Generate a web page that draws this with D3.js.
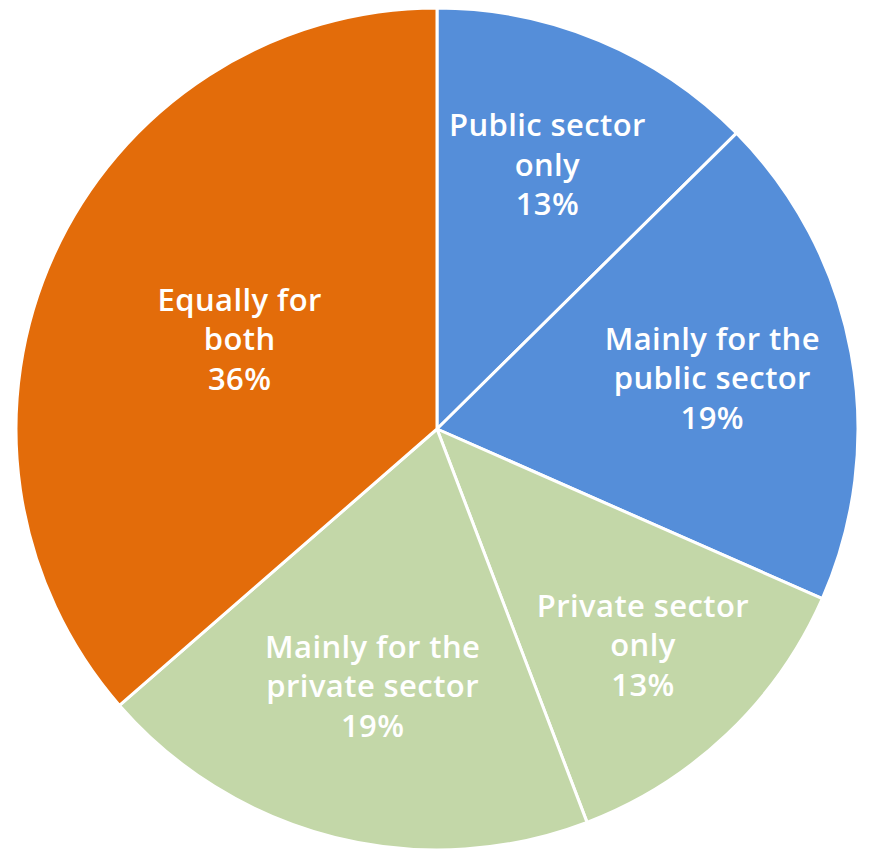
<!DOCTYPE html>
<html>
<head>
<meta charset="utf-8">
<script src="https://cdn.jsdelivr.net/npm/d3@7/dist/d3.min.js"></script>
<style>
  html, body { margin: 0; padding: 0; background: #ffffff; }
  svg { display: block; }
</style>
</head>
<body>
<svg id="chart" width="871" height="861"></svg>
<script>
// Data
const categories = [
  "Public sector only",
  "Mainly for the public sector",
  "Private sector only",
  "Mainly for the private sector",
  "Equally for both"
];
const labelLines = [
  ["Public sector", "only"],
  ["Mainly for the", "public sector"],
  ["Private sector", "only"],
  ["Mainly for the", "private sector"],
  ["Equally for", "both"]
];
const values = [12.6, 19.0, 12.6, 19.4, 36.4];
const colors = ["#558ED9", "#558ED9", "#C3D7A8", "#C3D7A8", "#E36C0A"];

// Layout
const width = 871, height = 861;
const cx = 437, cy = 429, R = 421;
const labelRadiusFrac = [0.68, 0.665, 0.71, 0.63, 0.515];
const fontSize = 31, lineH = 39.5;

const svg = d3.select("#chart");
const g = svg.append("g").attr("transform", `translate(${cx},${cy})`);

const pie = d3.pie().sort(null).value(d => d);
const arcs = pie(values);
const arc = d3.arc().innerRadius(0).outerRadius(R);

g.selectAll("path.slice")
  .data(arcs)
  .join("path")
  .attr("class", "slice")
  .attr("d", arc)
  .attr("fill", (d, i) => colors[i])
  .attr("stroke", "#ffffff")
  .attr("stroke-width", 3)
  .attr("stroke-linejoin", "round");

const labels = g.selectAll("text.lbl")
  .data(arcs)
  .join("text")
  .attr("class", "lbl")
  .attr("text-anchor", "middle")
  .attr("fill", "#ffffff")
  .style("font-family", "'Open Sans', Lato, sans-serif")
  .style("font-weight", "600")
  .style("font-size", fontSize + "px")
  .style("letter-spacing", "0.4px")
  .attr("transform", (d, i) => {
    const r = R * labelRadiusFrac[i];
    const c = d3.arc().innerRadius(r).outerRadius(r).centroid(d);
    return `translate(${c[0]},${c[1]})`;
  });

labels.each(function(d, i) {
  const lines = labelLines[i].concat([Math.round(values[i]) + "%"]);
  const t = d3.select(this);
  lines.forEach((ln, k) => {
    t.append("tspan")
      .attr("x", 0)
      .attr("y", (k - 1) * lineH)
      .attr("dy", "0.35em")
      .text(ln);
  });
});
</script>
</body>
</html>
